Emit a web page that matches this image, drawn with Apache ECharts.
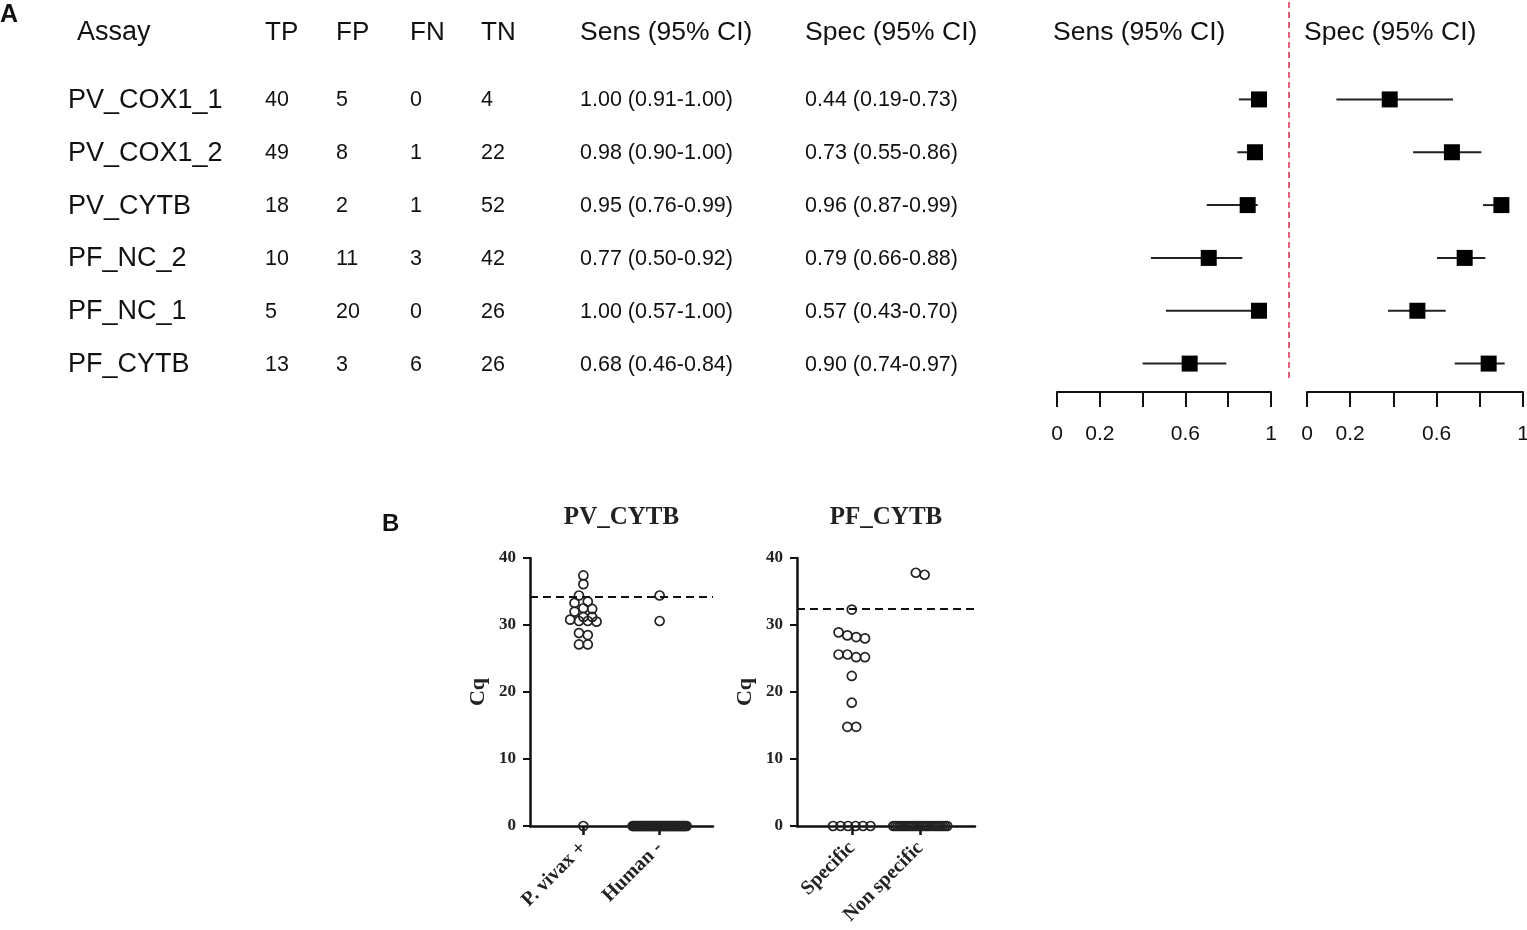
<!DOCTYPE html>
<html>
<head>
<meta charset="utf-8">
<script src="https://cdn.jsdelivr.net/npm/echarts@6.0.0/dist/echarts.min.js"></script>
<style>
  html, body { margin: 0; padding: 0; background: #fff; }
  #main { width: 1527px; height: 930px; }
</style>
</head>
<body>
<div id="main"></div>
<script>
// ---- panel A : table + forest ----
var assays = ['PV_COX1_1', 'PV_COX1_2', 'PV_CYTB', 'PF_NC_2', 'PF_NC_1', 'PF_CYTB'];
var tp = [40, 49, 18, 10, 5, 13];
var fp = [5, 8, 2, 11, 20, 3];
var fn = [0, 1, 1, 3, 0, 6];
var tn = [4, 22, 52, 42, 26, 26];
var sensText = ['1.00 (0.91-1.00)', '0.98 (0.90-1.00)', '0.95 (0.76-0.99)', '0.77 (0.50-0.92)', '1.00 (0.57-1.00)', '0.68 (0.46-0.84)'];
var specText = ['0.44 (0.19-0.73)', '0.73 (0.55-0.86)', '0.96 (0.87-0.99)', '0.79 (0.66-0.88)', '0.57 (0.43-0.70)', '0.90 (0.74-0.97)'];
// values as drawn in the forest plot
var sensEst = [0.944, 0.925, 0.891, 0.709, 0.944, 0.620];
var sensLo  = [0.850, 0.843, 0.700, 0.439, 0.509, 0.400];
var sensHi  = [0.975, 0.960, 0.938, 0.866, 0.975, 0.791];
var specEst = [0.383, 0.671, 0.900, 0.730, 0.511, 0.841];
var specLo  = [0.136, 0.491, 0.815, 0.602, 0.375, 0.684];
var specHi  = [0.676, 0.807, 0.934, 0.826, 0.642, 0.915];
var forestTicks = [0, 0.2, 0.6, 1];

// ---- panel B : Cq scatter ----
var pvCats = ['P. vivax +', 'Human -'];
var pvPos = [37.4, 36.1, 34.4, 33.3, 33.5, 32.4, 32.5, 32.0, 31.2, 31.2, 30.8, 30.5, 30.6, 30.6, 28.5, 28.8, 27.1, 27.1, 0];
var pvNeg = [34.4, 30.6].concat(new Array(52).fill(0));
var pfCats = ['Specific', 'Non specific'];
var pfPos = [32.3, 28.0, 28.2, 28.45, 28.9, 25.6, 25.6, 25.2, 25.2, 22.4, 18.4, 14.8, 14.8, 0, 0, 0, 0, 0, 0];
var pfNeg = [37.8, 37.5].concat(new Array(26).fill(0));
var pvCut = 34.2;
var pfCut = 32.4;

var sansFont = '"Liberation Sans", Arial, sans-serif';
var serifFont = '"Liberation Serif", "Times New Roman", serif';

// dot-plot layout: group close values into rows, centre each row (offsets in px)
function rowOffsets(values, d, zeroSpan) {
    var out = new Array(values.length);
    var order = values.map(function (v, i) { return i; })
        .sort(function (a, b) { return values[b] - values[a]; });
    var rows = [];
    order.forEach(function (idx) {
        var v = values[idx];
        var last = rows[rows.length - 1];
        if (last && (last.start - v) <= 0.95 && (v !== 0) === (last.start !== 0)) {
            last.items.push(idx);
        } else {
            rows.push({ start: v, items: [idx] });
        }
    });
    rows.forEach(function (r) {
        var n = r.items.length;
        var sp = d;
        if (r.start === 0 && n > 1) sp = Math.min(7.5, zeroSpan / (n - 1));
        r.items.forEach(function (idx, k) { out[idx] = (k - (n - 1) / 2) * sp; });
    });
    return out;
}

function dotData(values, cat, pxX) {
    var off = rowOffsets(values, 8.8, 54);
    return values.map(function (v, i) { return [cat + off[i] / pxX, v]; });
}

var bH = 268;
var pvGrid = { left: 530, top: 558, width: 183, height: bH, min: -0.7, max: 1.7 };
var pfGrid = { left: 797, top: 558, width: 178, height: bH, min: -0.8, max: 1.8 };
var pvPx = pvGrid.width / (pvGrid.max - pvGrid.min);
var pfPx = pfGrid.width / (pfGrid.max - pfGrid.min);

function dotXAxis(g, idx, cats) {
    return {
        type: 'value', gridIndex: idx, min: g.min, max: g.max,
        splitLine: { show: false },
        axisLine: { show: true, onZero: false, lineStyle: { color: '#111', width: 2.5 } },
        axisTick: { show: true, customValues: [0, 1], length: 9, lineStyle: { color: '#111', width: 2.5 } },
        axisLabel: {
            customValues: [0, 1], rotate: 45, margin: 19,
            fontFamily: serifFont, fontWeight: 'bold', fontSize: 20, color: '#222',
            formatter: function (v) { return cats[Math.round(v)]; }
        }
    };
}
function dotYAxis(idx) {
    return {
        type: 'value', gridIndex: idx, min: 0, max: 40, interval: 10,
        name: 'Cq', nameLocation: 'middle', nameGap: 41, nameRotate: 90,
        nameTextStyle: { fontFamily: serifFont, fontWeight: 'bold', fontSize: 22, color: '#222' },
        splitLine: { show: false },
        axisLine: { show: true, onZero: false, lineStyle: { color: '#111', width: 2.5 } },
        axisTick: { show: true, length: 7, lineStyle: { color: '#111', width: 2 } },
        axisLabel: { fontFamily: serifFont, fontWeight: 'bold', fontSize: 17, color: '#222', margin: 14 }
    };
}
function dotSeries(idx, data) {
    return {
        type: 'scatter', xAxisIndex: idx, yAxisIndex: idx, data: data,
        symbol: 'circle', symbolSize: 9, silent: true,
        itemStyle: { color: 'rgba(255,255,255,0)', borderColor: '#222', borderWidth: 1.7, opacity: 1 }
    };
}
function cutLine(idx, y) {
    return {
        type: 'line', xAxisIndex: idx, yAxisIndex: idx, data: [],
        markLine: {
            silent: true, symbol: 'none', label: { show: false },
            lineStyle: { color: '#111', type: [8, 5], width: 2 },
            data: [{ yAxis: y }]
        }
    };
}

var fTop = 73, fH = 317;
var forestGrids = [
    { left: 1057, top: fTop, width: 214, height: fH, outerBoundsMode: 'none' },
    { left: 1307, top: fTop, width: 216, height: fH, outerBoundsMode: 'none' }
];
function forestXAxis(idx) {
    return {
        type: 'value', gridIndex: idx, min: 0, max: 1, interval: 0.2, offset: 2,
        splitLine: { show: false },
        axisLine: { show: true, lineStyle: { color: '#111', width: 2 } },
        axisTick: { show: true, length: 15, lineStyle: { color: '#111', width: 2 } },
        axisLabel: { customValues: forestTicks, margin: 32, fontFamily: sansFont, fontSize: 21, color: '#111' }
    };
}
function forestYAxis(idx) {
    return { type: 'category', gridIndex: idx, data: assays, inverse: true, show: false };
}
function whiskers(idx, lo, hi) {
    return {
        type: 'custom', xAxisIndex: idx, yAxisIndex: idx, silent: true,
        data: assays.map(function (a, i) { return [lo[i], hi[i], i]; }),
        renderItem: function (params, api) {
            var p1 = api.coord([api.value(0), api.value(2)]);
            var p2 = api.coord([api.value(1), api.value(2)]);
            return { type: 'line', shape: { x1: p1[0], y1: p1[1], x2: p2[0], y2: p2[1] },
                     style: { stroke: '#222', lineWidth: 2 } };
        }
    };
}
function squares(idx, est) {
    return {
        type: 'scatter', xAxisIndex: idx, yAxisIndex: idx, silent: true,
        data: assays.map(function (a, i) { return [est[i], i]; }),
        symbol: 'rect', symbolSize: 16, itemStyle: { color: '#000', opacity: 1 }
    };
}

var titleStyle = { fontFamily: serifFont, fontWeight: 'bold', fontSize: 25, color: '#222' };
var chart = echarts.init(document.getElementById('main'));
var option = {
    backgroundColor: '#fff',
    animation: false,
    title: [
        { text: 'PV_CYTB', left: pvGrid.left + pvGrid.width / 2, top: 505, textAlign: 'center', padding: 0, textStyle: titleStyle },
        { text: 'PF_CYTB', left: pfGrid.left + pfGrid.width / 2, top: 505, textAlign: 'center', padding: 0, textStyle: titleStyle }
    ],
    grid: [forestGrids[0], forestGrids[1],
        { left: pvGrid.left, top: pvGrid.top, width: pvGrid.width, height: pvGrid.height, outerBoundsMode: 'none' },
        { left: pfGrid.left, top: pfGrid.top, width: pfGrid.width, height: pfGrid.height, outerBoundsMode: 'none' }],
    xAxis: [forestXAxis(0), forestXAxis(1), dotXAxis(pvGrid, 2, pvCats), dotXAxis(pfGrid, 3, pfCats)],
    yAxis: [forestYAxis(0), forestYAxis(1), dotYAxis(2), dotYAxis(3)],
    series: [
        whiskers(0, sensLo, sensHi), squares(0, sensEst),
        whiskers(1, specLo, specHi), squares(1, specEst),
        dotSeries(2, dotData(pvPos, 0, pvPx).concat(dotData(pvNeg, 1, pvPx))),
        cutLine(2, pvCut),
        dotSeries(3, dotData(pfPos, 0, pfPx).concat(dotData(pfNeg, 1, pfPx))),
        cutLine(3, pfCut)
    ]
};
chart.setOption(option);

// table text placed on the forest rows
var rowY = assays.map(function (a, i) { return chart.convertToPixel({ yAxisIndex: 0 }, i); });
var g = [];
function txt(x, y, s, size, weight) {
    g.push({ type: 'text', x: x, y: y, silent: true,
        style: { text: s, fontFamily: sansFont, fontSize: size, fontWeight: weight || 'normal',
                 fill: '#111', verticalAlign: 'middle', align: 'left' } });
}
var headY = 33;
txt(77, headY, 'Assay', 27);
txt(265, headY, 'TP', 26);
txt(336, headY, 'FP', 26);
txt(410, headY, 'FN', 26);
txt(481, headY, 'TN', 26);
txt(580, headY, 'Sens (95% CI)', 26.5);
txt(805, headY, 'Spec (95% CI)', 26.5);
txt(1053, headY, 'Sens (95% CI)', 26.5);
txt(1304, headY, 'Spec (95% CI)', 26.5);
assays.forEach(function (a, i) {
    var y = rowY[i];
    txt(68, y + 1, a, 27);
    txt(265, y + 1, String(tp[i]), 21.5);
    txt(336, y + 1, String(fp[i]), 21.5);
    txt(410, y + 1, String(fn[i]), 21.5);
    txt(481, y + 1, String(tn[i]), 21.5);
    txt(580, y + 1, sensText[i], 21.5);
    txt(805, y + 1, specText[i], 21.5);
});
txt(0, 15, 'A', 25, 'bold');
txt(382, 524, 'B', 24, 'bold');
g.push({ type: 'line', silent: true, shape: { x1: 1289, y1: 2, x2: 1289, y2: 381 },
         style: { stroke: '#e4607a', lineWidth: 2, lineDash: [6, 4] } });
chart.setOption({ graphic: g });
</script>
</body>
</html>
